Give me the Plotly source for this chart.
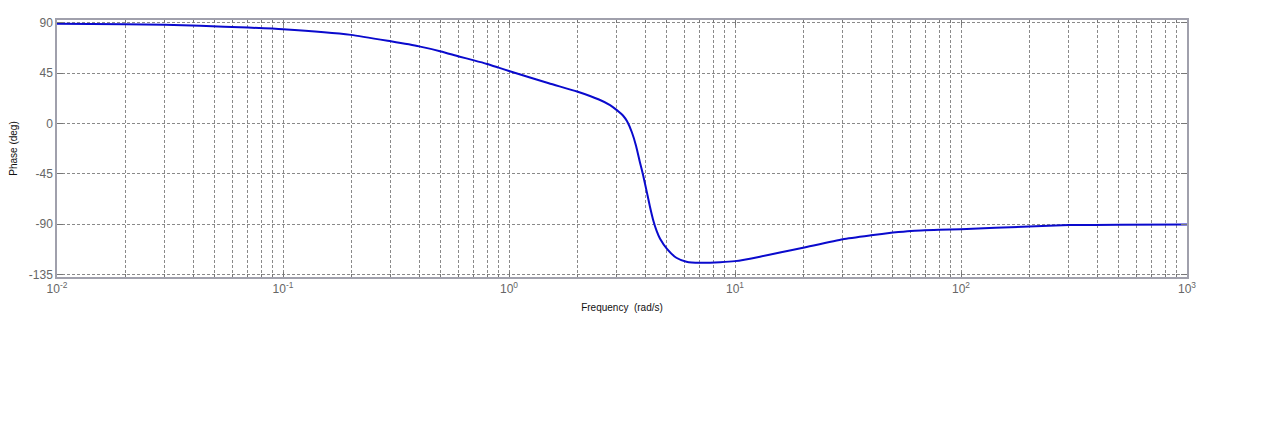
import plotly.graph_objects as go

freq = [0.01, 0.02, 0.03, 0.043, 0.07, 0.1, 0.2, 0.3, 0.4, 0.5, 0.6, 0.7, 0.8, 0.9, 1.0,
        1.5, 2.0, 2.5, 2.8, 3.0, 3.2, 3.33,
        3.5, 3.65, 3.8, 3.92, 4.08, 4.2, 4.34, 4.5, 4.66, 5.0, 5.5, 6.1, 7.0, 8.6, 10.0,
        12.9, 16.0, 20.0, 30.0, 40.0, 50.0, 60.0, 80.0, 100.0, 200.0, 300.0, 500.0, 1000.0]
phase = [89.2, 88.8, 88.4, 87.4, 85.8, 84.3, 79.3, 73.5, 69.0, 64.5, 60.0, 56.5, 53.3, 50.0, 47.0,
         36.0, 28.7, 21.5, 16.5, 12.0, 7.0, 2.0,
         -8.0, -20.0, -35.0, -46.0, -62.0, -74.0, -86.0, -96.0, -103.0, -112.0, -120.0, -123.5, -124.5, -124.0, -123.0,
         -119.0, -115.0, -111.0, -103.4, -99.9, -97.5, -96.0, -95.0, -94.5, -92.0, -90.8, -90.5, -90.3]

yticks = [90, 45, 0, -45, -90, -135]
decades = [-2, -1, 0, 1, 2, 3]

major_vals = [10.0 ** d for d in decades]
major_text = [f"10<sup>{d}</sup>" for d in decades]
minor_vals = [m * 10.0 ** d for d in decades[:-1] for m in range(2, 10)]

fig = go.Figure()
fig.add_trace(go.Scatter(x=freq, y=phase, mode="lines",
                         line=dict(color="#0a0acd", width=2, shape="spline", smoothing=0.5),
                         hoverinfo="skip"))

gridc = "#8a8a8a"
# page body has an 8px default margin, so offsets are reduced by 8px
fig.update_layout(
    width=1280, height=421,
    margin=dict(l=49, r=101, t=12, b=152, autoexpand=False),
    paper_bgcolor="white", plot_bgcolor="white",
    showlegend=False,
    font=dict(family="Liberation Sans, Arial, sans-serif", color="#555555"),
    xaxis=dict(type="log", range=[-2, 3], tickvals=major_vals, ticktext=major_text, automargin=False,
               showgrid=True, gridcolor=gridc, griddash="3px,2px", gridwidth=1,
               ticks="inside", ticklen=5, tickcolor="#777",
               minor=dict(tickvals=minor_vals, showgrid=True, gridcolor=gridc, griddash="3px,2px",
                          gridwidth=1, ticks="inside", ticklen=3, tickcolor="#777"),
               showline=True, linecolor="#a0a0ac", linewidth=1.5, mirror="ticks",
               zeroline=False, tickfont=dict(size=12, color="#666666"),
               title=dict(text="Frequency  (rad/s)", font=dict(size=10, color="#111111"), standoff=9)),
    yaxis=dict(range=[-137.2, 92.6], tickvals=yticks, ticktext=[str(v) for v in yticks], automargin=False,
               showgrid=True, gridcolor=gridc, griddash="3px,2px", gridwidth=1,
               ticks="inside", ticklen=6, tickcolor="#777",
               showline=True, linecolor="#a0a0ac", linewidth=1.5, mirror="ticks",
               zeroline=False, tickfont=dict(size=12, color="#666666"),
               title=dict(text="Phase (deg)", font=dict(size=10, color="#111111"), standoff=9)),
)
fig.write_html("out.html")
